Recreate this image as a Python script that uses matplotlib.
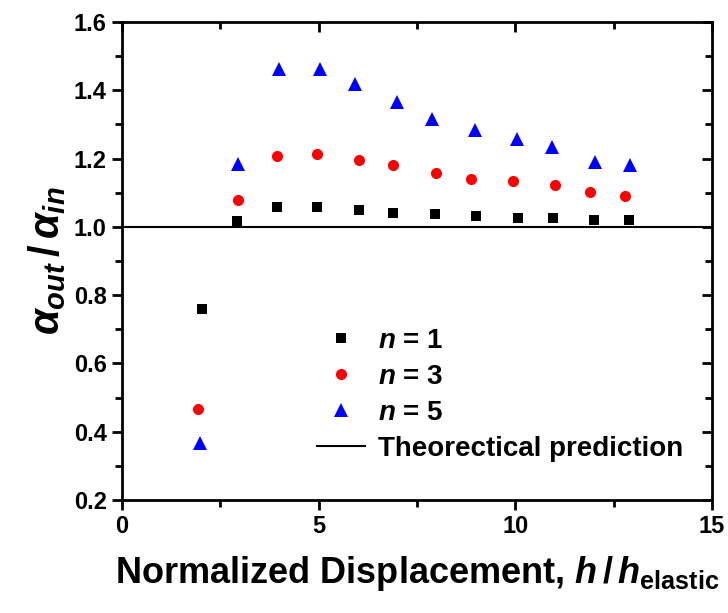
import numpy as np
import matplotlib
matplotlib.use('Agg')
from matplotlib import pyplot as plt
from matplotlib import lines as mlines

plt.rcParams['font.family'] = 'Liberation Sans'
plt.rcParams['font.weight'] = 'bold'
plt.rcParams['axes.labelweight'] = 'bold'
plt.rcParams['mathtext.fontset'] = 'custom'
plt.rcParams['mathtext.rm'] = 'Liberation Sans:bold'
plt.rcParams['mathtext.bf'] = 'Liberation Sans:bold'
plt.rcParams['mathtext.it'] = 'Liberation Sans:italic:bold'

# data
x_n1 = [2.03, 2.92, 3.95, 4.96, 6.02, 6.90, 7.95, 9.01, 10.07, 10.96, 12.00, 12.88]
y_n1 = [0.760, 1.016, 1.057, 1.057, 1.050, 1.042, 1.037, 1.032, 1.027, 1.025, 1.021, 1.021]

x_n3 = [1.92, 2.95, 3.93, 4.97, 6.02, 6.90, 7.98, 8.87, 9.94, 11.00, 11.89, 12.80]
y_n3 = [0.467, 1.079, 1.207, 1.214, 1.196, 1.181, 1.158, 1.141, 1.133, 1.123, 1.101, 1.089]

x_n5 = [1.99, 2.94, 4.00, 5.04, 5.92, 7.00, 7.89, 8.97, 10.05, 10.94, 12.02, 12.92]
y_n5 = [0.368, 1.183, 1.462, 1.462, 1.417, 1.366, 1.316, 1.284, 1.257, 1.234, 1.191, 1.180]

theory_x = [0, 15]
theory_y = [1.0, 1.0]

xmaj = [0, 5, 10, 15]
xmin = [2.5, 7.5, 12.5]
ymaj = np.arange(0.2, 1.61, 0.2)
ymin = np.arange(0.3, 1.6, 0.2)
ylabels = ['0.2', '0.4', '0.6', '0.8', '1.0', '1.2', '1.4', '1.6']

fig = plt.figure(figsize=(7.28, 6.13), dpi=100)
# frame at pixel 122..712 (x), 22..500 (y from top)
ax = fig.add_axes([122 / 728, 113 / 613, 590 / 728, 478 / 613])

ax.plot(x_n1, y_n1, 's', color='black', ms=7.5, mew=0, label=r'$n$ = 1')
ax.plot(x_n3, y_n3, 'o', color='red', ms=8, mew=0, label=r'$n$ = 3')
ax.plot(x_n5, y_n5, '^', color='blue', ms=9.5, mew=0, label=r'$n$ = 5')
ax.plot(theory_x, theory_y, '-', color='black', lw=1.5, label='Theorectical prediction')

ax.set_xlim(0, 15)
ax.set_ylim(0.2, 1.6)
ax.set_xticks(xmaj)
ax.set_xticks(xmin, minor=True)
ax.set_yticks(ymaj)
ax.set_yticks(ymin, minor=True)
ax.set_yticklabels(ylabels)
ax.tick_params(which='both', direction='out', width=2, labelsize=17, pad=4,
               top=True, right=True)
ax.tick_params(which='major', length=7)
ax.tick_params(which='minor', length=5)

# top / right ticks point inwards
for t in ax.xaxis.get_major_ticks() + ax.xaxis.get_minor_ticks():
    t.tick2line.set_marker(mlines.TICKDOWN)
for t in ax.yaxis.get_major_ticks() + ax.yaxis.get_minor_ticks():
    t.tick2line.set_marker(mlines.TICKLEFT)

for s in ax.spines.values():
    s.set_linewidth(2)

ax.set_xlabel(r'Normalized Displacement, $h\,/\,h_{\mathbf{elastic}}$', fontsize=26, labelpad=11)
ax.set_ylabel(r'$\alpha_{out}\,/\,\alpha_{in}$', fontsize=30, labelpad=4)

ax.legend(loc='upper left', bbox_to_anchor=(0.33, 0.36), frameon=False, fontsize=20,
          numpoints=1, handlelength=1.73, handletextpad=0.47, labelspacing=0.36,
          borderpad=0, borderaxespad=0)

plt.savefig('out.png', dpi=100)
